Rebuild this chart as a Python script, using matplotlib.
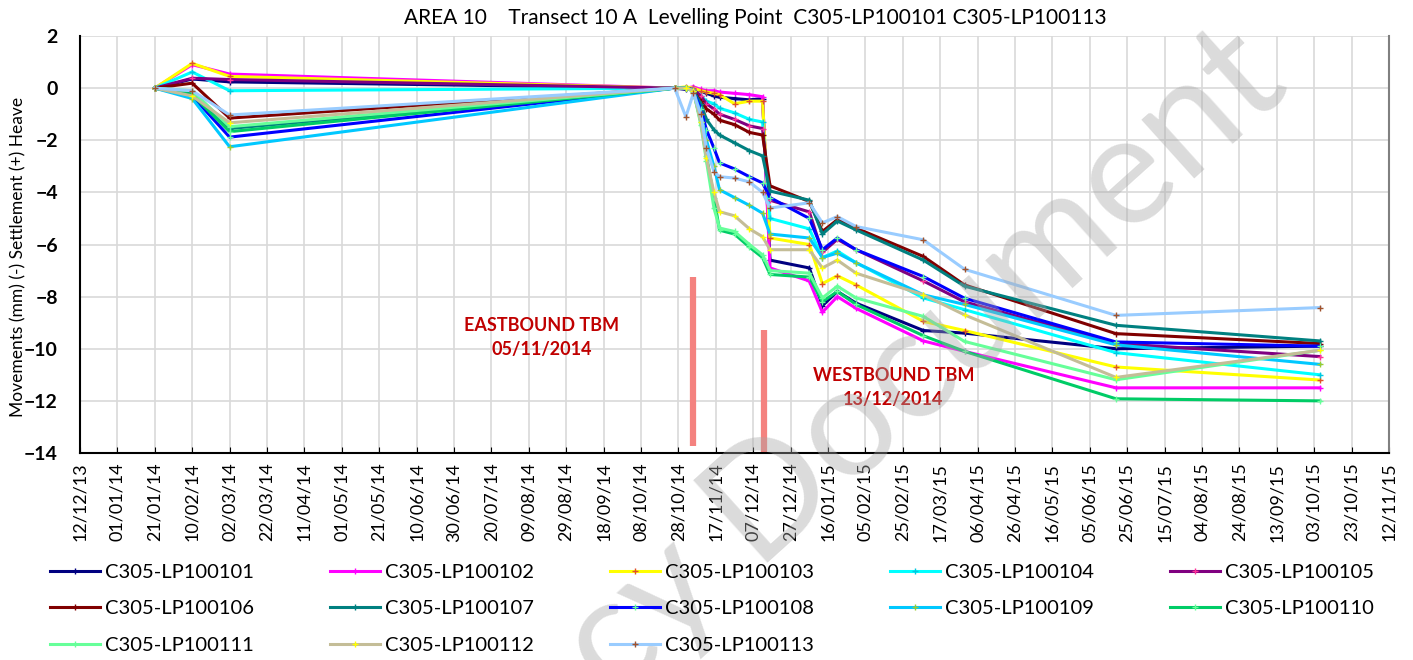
import pandas as pd
import matplotlib
matplotlib.use('Agg')
import matplotlib.pyplot as plt

plt.rcParams['font.family'] = ['Lato', 'DejaVu Sans']

# dates des relevés
dates = ['2014-01-21', '2014-02-10', '2014-03-02', '2014-10-26', '2014-11-01',
         '2014-11-05', '2014-11-09', '2014-11-12', '2014-11-16', '2014-11-19',
         '2014-11-27', '2014-12-05', '2014-12-12', '2014-12-16', '2015-01-06',
         '2015-01-13', '2015-01-21', '2015-01-31', '2015-03-08', '2015-03-30',
         '2015-06-19', '2015-10-06']

# mouvements (mm) par point
lp101 = [0, 0.35, 0.24, 0, -0.05, 0, -0.1, -0.2, -0.3, -0.35, -0.4, -0.45, -0.4, -6.6, -6.9, -8.35, -7.8, -8.25, -9.3, -9.4, -10.0, -9.9]
lp102 = [0, 0.9, 0.54, 0, 0, 0.05, -0.05, -0.1, -0.1, -0.15, -0.2, -0.25, -0.33, -6.9, -7.4, -8.6, -8.0, -8.45, -9.7, -10.1, -11.5, -11.5]
lp103 = [0, 0.95, 0.45, 0, 0.05, 0, -0.1, -0.15, -0.2, -0.25, -0.6, -0.5, -0.5, -5.75, -6.0, -7.5, -7.2, -7.55, -8.95, -9.3, -10.7, -11.2]
lp104 = [0, 0.62, -0.1, 0, 0, -0.05, -0.3, -0.5, -0.6, -0.77, -0.95, -1.2, -1.3, -5.0, -5.4, -6.5, -6.25, -6.7, -8.05, -8.5, -10.15, -11.0]
lp105 = [0, 0.38, 0.33, 0, 0, -0.05, -0.3, -0.6, -0.8, -1.0, -1.2, -1.45, -1.55, -4.3, -4.75, -6.3, -5.8, -6.2, -7.4, -8.2, -9.8, -10.3]
lp106 = [0, 0.19, -1.15, 0, 0, -0.1, -0.5, -0.8, -1.0, -1.23, -1.4, -1.7, -1.8, -3.75, -4.35, -5.5, -5.05, -5.37, -6.46, -7.55, -9.42, -9.8]
lp107 = [0, -0.15, -1.55, 0, 0, -0.1, -0.6, -1.2, -1.6, -1.8, -2.1, -2.4, -2.6, -3.95, -4.3, -5.6, -5.1, -5.44, -6.6, -7.6, -9.1, -9.7]
lp108 = [0, -0.3, -1.88, 0, 0, -0.1, -0.8, -1.6, -2.3, -2.87, -3.1, -3.4, -3.64, -4.2, -5.0, -6.2, -5.75, -6.2, -7.23, -8.06, -9.74, -9.9]
lp109 = [0, -0.4, -2.25, 0, 0, -0.1, -1.0, -2.0, -3.0, -3.9, -4.2, -4.5, -4.8, -5.6, -5.75, -6.5, -6.33, -6.7, -7.93, -8.3, -9.85, -10.6]
lp110 = [0, -0.25, -1.67, 0, 0, -0.1, -1.3, -2.6, -4.2, -5.45, -5.6, -6.1, -6.5, -7.15, -7.25, -8.2, -7.8, -8.3, -9.5, -10.1, -11.92, -12.0]
lp111 = [0, -0.1, -1.48, 0, 0, -0.1, -1.4, -2.8, -4.6, -5.37, -5.5, -6.0, -6.4, -7.0, -7.1, -8.05, -7.6, -8.05, -8.76, -9.72, -11.19, -10.06]
lp112 = [0, -0.3, -1.33, 0, 0, -0.1, -1.3, -2.7, -4.0, -4.74, -4.9, -5.4, -5.7, -6.2, -6.2, -6.9, -6.6, -7.1, -7.93, -8.7, -11.1, -10.06]
lp113 = [0, -0.1, -1.03, 0, -1.1, -0.2, -1.0, -2.3, -3.2, -3.4, -3.45, -3.6, -4.0, -4.6, -4.4, -5.17, -4.93, -5.31, -5.82, -6.95, -8.72, -8.42]

noms = ['C305-LP100101', 'C305-LP100102', 'C305-LP100103', 'C305-LP100104', 'C305-LP100105',
        'C305-LP100106', 'C305-LP100107', 'C305-LP100108', 'C305-LP100109', 'C305-LP100110',
        'C305-LP100111', 'C305-LP100112', 'C305-LP100113']
series = [lp101, lp102, lp103, lp104, lp105, lp106, lp107, lp108, lp109, lp110, lp111, lp112, lp113]
couleurs = ['#000080', '#FF00FF', '#FFFF00', '#00FFFF', '#800080', '#800000', '#008080',
            '#0000FF', '#00C8FF', '#00CC66', '#66FF99', '#C4BD97', '#99CCFF']
marqueurs = ['#000080', '#FF00FF', '#E0502A', '#00C8E0', '#FF3399', '#800000', '#008080',
             '#66FF99', '#99CC33', '#66FF99', '#66FF99', '#FFFF00', '#A0522D']

# passages des tunneliers
tbm_dates = ['2014-11-05', '2014-12-13']
tbm_haut = [-7.24, -9.27]
tbm_bas = [-13.75, -14.0]

fig = plt.figure(figsize=(14.13, 6.6), dpi=100)
ax = fig.add_axes([80 / 1413, 1 - 453 / 660, 1309 / 1413, 417 / 660])

x = pd.to_datetime(dates)
for nom, y, c, mc in zip(noms, series, couleurs, marqueurs):
    ax.plot(x, y, color=c, lw=2.2, marker='+', ms=5, mew=1, mec=mc, label=nom)

for d, h, b in zip(tbm_dates, tbm_haut, tbm_bas):
    ax.plot([pd.Timestamp(d)] * 2, [h, b], color='#F4827F', lw=4.5, solid_capstyle='butt')

ax.text(pd.Timestamp('2014-08-16'), -9.57, 'EASTBOUND TBM\n05/11/2014', ha='center', va='center',
        color='#C00000', fontweight='bold', fontsize=13, linespacing=1.45)
ax.text(pd.Timestamp('2015-02-20'), -11.49, 'WESTBOUND TBM\n13/12/2014', ha='center', va='center',
        color='#C00000', fontweight='bold', fontsize=13, linespacing=1.45)

# axes
ticks = pd.date_range('2013-12-12', '2015-11-12', freq='20D')
ax.set_xlim(ticks[0], ticks[-1])
ax.set_xticks(ticks)
ax.set_xticklabels([t.strftime('%d/%m/%y') for t in ticks], rotation=90, fontsize=13)
ax.set_ylim(-14, 2)
ax.set_yticks(range(-14, 3, 2))
ax.tick_params(axis='x', direction='in', length=4, pad=7)
ax.tick_params(axis='y', length=0, pad=16, labelsize=14)
for lab in ax.get_yticklabels():
    lab.set_fontweight('bold')
ax.grid(color='#D9D9D9', lw=1.2)
ax.set_axisbelow(True)
ax.spines['top'].set_visible(False)
ax.spines['right'].set_color('#808080')
for s in ['left', 'bottom', 'right']:
    ax.spines[s].set_linewidth(1.5)

fig.text(755 / 1413, 1 - 18 / 660, 'AREA 10    Transect 10 A  Levelling Point  C305-LP100101 C305-LP100113',
         ha='center', va='center', fontsize=15)
fig.text(18 / 1413, 0.61, 'Movements (mm) (-) Settlement (+) Heave', rotation=90,
         ha='center', va='center', fontsize=12.5)

# légende en lignes (ordre comme Excel)
h, l = ax.get_legend_handles_labels()
ordre = [0, 5, 10, 1, 6, 11, 2, 7, 12, 3, 8, 4, 9]
fig.legend([h[i] for i in ordre], [l[i] for i in ordre], ncol=5, loc='upper left',
           bbox_to_anchor=(50 / 1413, 1 - 564 / 660), frameon=False, fontsize=14.5,
           handlelength=2.5, handletextpad=0.25, columnspacing=3.75, labelspacing=0.95,
           borderpad=0, borderaxespad=0, numpoints=1)

# filigrane
fig.text(0.57, 0.285, 'Legacy Document', rotation=42, fontsize=112, color='#A6A6A6', alpha=0.4,
         ha='center', va='center', rotation_mode='anchor')

plt.savefig('out.png', dpi=100)
